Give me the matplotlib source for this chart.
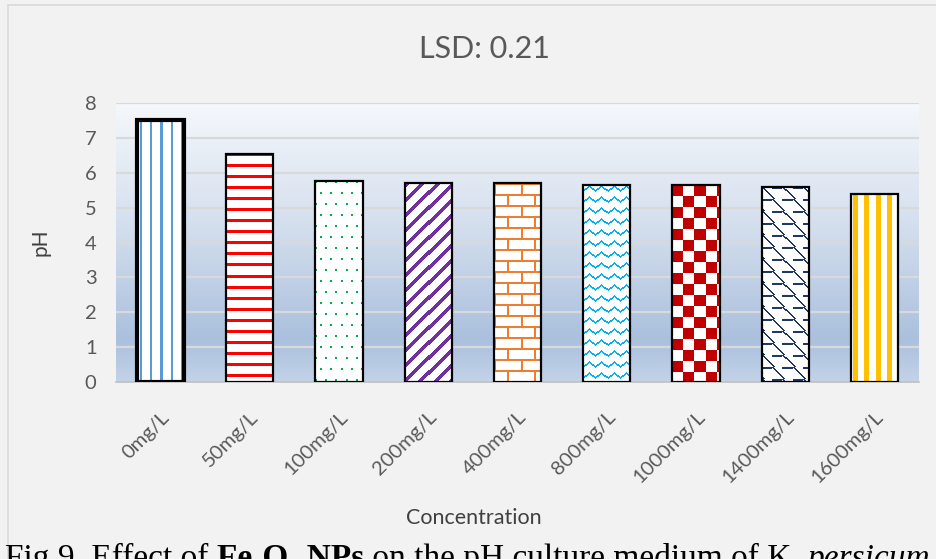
import numpy as np
import matplotlib
matplotlib.use("Agg")
import matplotlib.pyplot as plt
from matplotlib.colors import LinearSegmentedColormap, to_rgb
from matplotlib.patches import Rectangle

# data
categories = ["0mg/L", "50mg/L", "100mg/L", "200mg/L", "400mg/L",
              "800mg/L", "1000mg/L", "1400mg/L", "1600mg/L"]
ph_values = [7.50, 6.55, 5.75, 5.70, 5.70, 5.64, 5.64, 5.58, 5.40]
pattern_colors = ["#5b9bd5", "#ff0000", "#00b050", "#7030a0", "#ed7d31",
                  "#00b0f0", "#c00000", "#203864", "#ffc000"]
patterns = ["vlines", "hlines", "dots", "diag", "brick",
            "wave", "checker", "shingle", "vwide"]
title = "LSD: 0.21"

plt.rcParams["font.family"] = ["Lato", "DejaVu Sans"]

W, H = 936, 559
fig = plt.figure(figsize=(W / 100, H / 100), dpi=100)
fig.patch.set_facecolor("#f2f2f2")

L, R, T, B = 116, 919, 103, 382
ax = fig.add_axes([L / W, 1 - B / H, (R - L) / W, (B - T) / H])
ax.set_xlim(-0.5, len(categories) - 0.5)
ax.set_ylim(0, 8)
ax.set_facecolor("none")

# gradient plot area
grad_cmap = LinearSegmentedColormap.from_list(
    "pa", [(0.0, "#f5f8fc"), (0.45, "#d3deed"), (0.85, "#aac0dd"), (1.0, "#c3d3e8")])
g = np.linspace(0, 1, 256).reshape(-1, 1)
ax.imshow(g, cmap=grad_cmap, extent=(0, 1, 0, 1), transform=ax.transAxes,
          aspect="auto", zorder=0, origin="upper")

ax.set_yticks(range(0, 9))
ax.grid(axis="y", color="#d9d9d9", lw=1.6, zorder=1)
ax.set_axisbelow(True)
for s in ["top", "right", "left"]:
    ax.spines[s].set_visible(False)
ax.spines["bottom"].set_color("#bfbfbf")
ax.spines["bottom"].set_linewidth(1.2)
ax.spines["bottom"].set_zorder(2)
ax.tick_params(axis="both", length=0, colors="#595959", labelsize=14.5)
ax.tick_params(axis="y", pad=14)


def texture(kind, w, h, color):
    yy, xx = np.mgrid[0:h, 0:w]
    if kind == "vlines":
        m = ((xx - 3) % 10) < 2
    elif kind == "hlines":
        m = (yy % 11) < 3
    elif kind == "dots":
        row = yy // 11
        m = (((xx + (row % 2) * 5) % 10) < 2) & ((yy % 11) < 2)
    elif kind == "diag":
        m = ((xx + yy) % 15) < 5
    elif kind == "brick":
        row = yy // 11
        m = ((yy % 11) < 2) | (((xx + (row % 2) * 13) % 26) < 2)
    elif kind == "wave":
        tri = np.abs((xx % 12) - 6) * 0.7
        m = ((yy - tri) % 11) < 2
    elif kind == "checker":
        m = ((xx // 11) + (yy // 11)) % 2 == 0
    elif kind == "shingle":
        row = yy // 12
        xs = xx + (row % 2) * 10
        m = (((xs - (yy % 12)) % 20) < 2) | (((yy % 12) < 2) & ((xs % 20) >= 10))
    elif kind == "vwide":
        m = ((xx - 2) % 11) < 5
    else:
        m = np.zeros((h, w), bool)
    c = np.array(to_rgb(color))
    img = np.ones((h, w, 3))
    img[m] = c
    return img


bar_w = 0.53
bars = ax.bar(np.arange(len(categories)), ph_values, width=bar_w,
              facecolor="none", edgecolor="black", linewidth=1.6, zorder=4)
bars[0].set_linewidth(3.0)

px_x = (R - L) / (ax.get_xlim()[1] - ax.get_xlim()[0])
px_y = (B - T) / (ax.get_ylim()[1] - ax.get_ylim()[0])
for i, (bar, v) in enumerate(zip(bars, ph_values)):
    w = int(round(bar_w * px_x))
    h = int(round(v * px_y))
    img = texture(patterns[i], w, h, pattern_colors[i])
    im = ax.imshow(img, extent=(i - bar_w / 2, i + bar_w / 2, 0, v),
                   aspect="auto", zorder=3, interpolation="nearest")
    im.set_clip_path(bar)
ax.set_xlim(-0.5, len(categories) - 0.5)
ax.set_ylim(0, 8)

ax.set_xticks(np.arange(len(categories)))
ax.set_xticklabels(categories, rotation=45, ha="right", va="top",
                   rotation_mode="anchor")
ax.tick_params(axis="x", pad=19)

ax.set_ylabel("pH", fontsize=15, color="#404040")
ax.yaxis.set_label_coords(-0.082, 0.5)
ax.set_xlabel("Concentration", fontsize=15.5, color="#404040")
ax.xaxis.set_label_coords(0.445, -0.45)

fig.text(484 / W, 1 - 49 / H, title, fontsize=22, color="#595959",
         ha="center", va="center")

# chart border
fig.patches.append(Rectangle((8 / W, -0.1), 1.0, 1 - 5 / H + 0.1,
                             transform=fig.transFigure, fill=False,
                             edgecolor="#d9d9d9", lw=1.2, zorder=0))

# caption, mostly cut off at the bottom
serif = ["Liberation Serif", "DejaVu Serif"]
pieces = [("Fig.9. Effect of ", "normal", "normal"),
          ("Fe\u2083O\u2084 NPs", "bold", "normal"),
          (" on the pH culture medium of K. ", "normal", "normal"),
          ("persicum", "normal", "italic")]
fig.canvas.draw()
renderer = fig.canvas.get_renderer()
xpos = 5
for txt, wt, st in pieces:
    t = fig.text(xpos / W, 1 - 567 / H, txt, fontsize=24, family=serif,
                 weight=wt, style=st, color="black", ha="left", va="baseline")
    bb = t.get_window_extent(renderer)
    xpos += bb.width

fig.savefig("out.png", dpi=100, facecolor=fig.get_facecolor())
